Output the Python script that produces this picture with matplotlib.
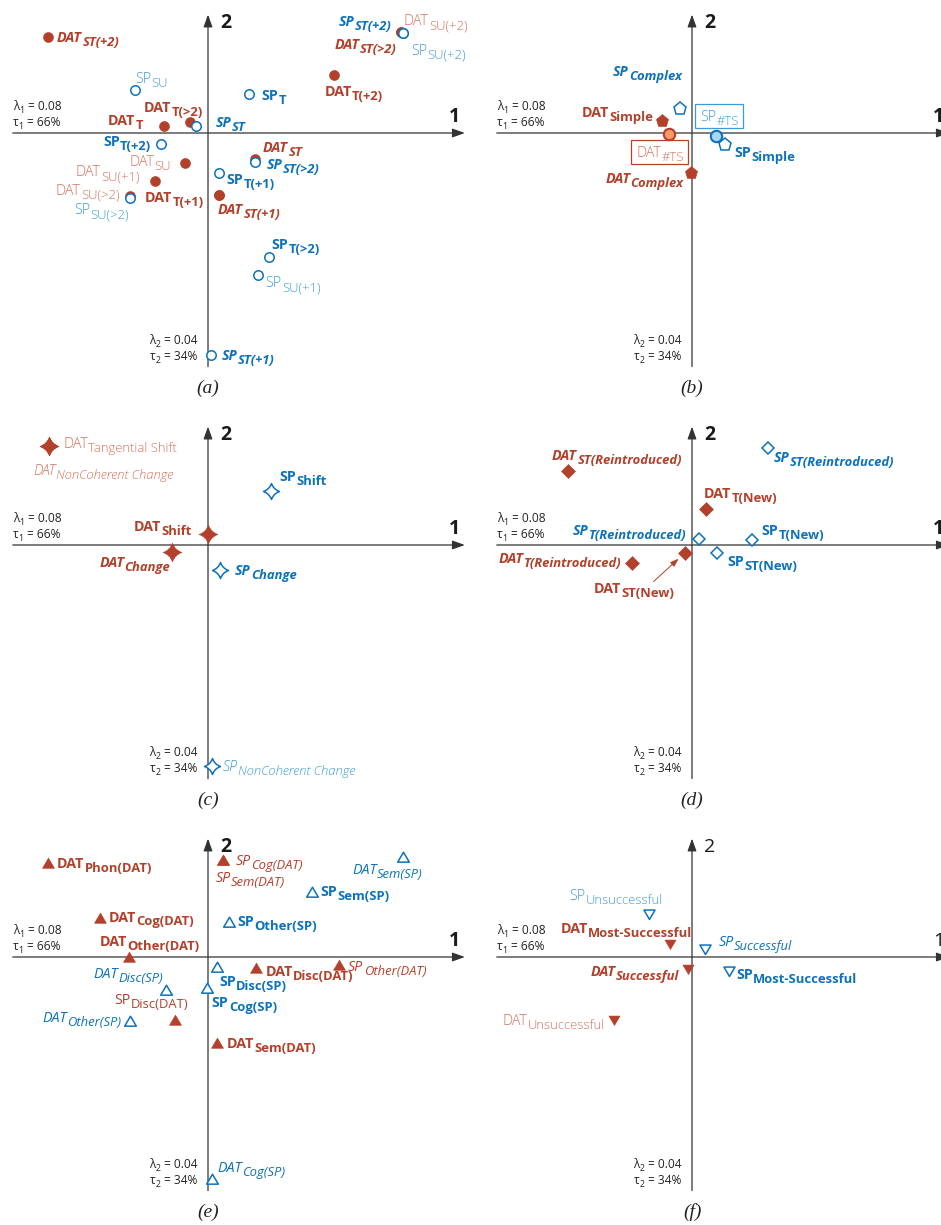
import numpy as np
import matplotlib
matplotlib.use("Agg")
import matplotlib.pyplot as plt
from matplotlib.path import Path
from matplotlib.patches import Rectangle
from matplotlib.transforms import Bbox

plt.rcParams["font.family"] = ["Open Sans", "DejaVu Sans"]

RED = "#b2402a"
BLUE = "#0d72b9"
RED_LIGHT = "#d4705c"
BLUE_LIGHT = "#3f9bd8"
AXIS = "#333333"

# ---------------- (a) transition types ----------------
a_labels = ["DAT_ST(+2)", "SP_ST(+2)", "DAT_SU(+2)", "DAT_ST(>2)", "SP_SU(+2)",
            "DAT_T(+2)", "SP_T", "SP_SU", "DAT_T(>2)", "DAT_T", "SP_ST", "SP_T(+2)",
            "DAT_ST", "SP_ST(>2)", "DAT_SU", "SP_T(+1)", "DAT_SU(+1)", "DAT_SU(>2)",
            "SP_SU(>2)", "DAT_T(+1)", "DAT_ST(+1)", "SP_T(>2)", "SP_SU(+1)", "SP_ST(+1)"]
a_dim1 = [-0.400, 0.487, 0.482, 0.482, 0.487, 0.314, 0.103, -0.183, -0.046, -0.110,
          -0.029, -0.118, 0.117, 0.117, -0.058, 0.027, -0.133, -0.196, -0.196, 0.027,
          0.027, 0.153, 0.126, 0.007]
a_dim2 = [0.239, 0.250, 0.253, 0.253, 0.250, 0.146, 0.097, 0.108, 0.027, 0.018,
          0.017, -0.027, -0.065, -0.073, -0.076, -0.099, -0.121, -0.157, -0.162, -0.154,
          -0.154, -0.311, -0.355, -0.555]

# ---------------- (b) simple / complex ----------------
b_labels = ["SP_Complex", "DAT_Simple", "DAT_#TS", "SP_#TS", "SP_Simple", "DAT_Complex"]
b_dim1 = [-0.031, -0.074, -0.058, 0.061, 0.083, -0.003]
b_dim2 = [0.059, 0.029, -0.003, -0.008, -0.029, -0.100]

# ---------------- (c) shift / change ----------------
c_labels = ["DAT_Tangential Shift", "DAT_NonCoherent Change", "SP_Shift", "DAT_Shift",
            "DAT_Change", "SP_Change", "SP_NonCoherent Change"]
c_dim1 = [-0.398, -0.398, 0.157, 0.000, -0.090, 0.031, 0.010]
c_dim2 = [0.248, 0.248, 0.136, 0.028, -0.017, -0.063, -0.553]

# ---------------- (d) new / reintroduced ----------------
d_labels = ["DAT_ST(Reintroduced)", "SP_ST(Reintroduced)", "DAT_T(New)",
            "SP_T(Reintroduced)", "SP_T(New)", "DAT_ST(New)", "SP_ST(New)",
            "DAT_T(Reintroduced)"]
d_dim1 = [-0.311, 0.189, 0.036, 0.017, 0.151, -0.017, 0.063, -0.149]
d_dim2 = [0.186, 0.243, 0.089, 0.014, 0.013, -0.019, -0.019, -0.046]

# ---------------- (e) topic types ----------------
e_labels = ["DAT_Phon(DAT)", "SP_Cog(DAT)", "SP_Sem(DAT)", "DAT_Sem(SP)", "SP_Sem(SP)",
            "DAT_Cog(DAT)", "SP_Other(SP)", "DAT_Other(DAT)", "SP_Disc(SP)",
            "DAT_Disc(DAT)", "SP_Other(DAT)", "DAT_Disc(SP)", "SP_Cog(SP)",
            "SP_Disc(DAT)", "DAT_Other(SP)", "DAT_Sem(DAT)", "DAT_Cog(SP)"]
e_group = ["DAT", "DAT", "DAT", "SP", "SP", "DAT", "SP", "DAT", "SP",
           "DAT", "DAT", "SP", "SP", "DAT", "SP", "DAT", "SP"]
e_dim1 = [-0.400, 0.038, 0.038, 0.488, 0.260, -0.271, 0.053, -0.197, 0.023,
          0.119, 0.328, -0.104, -0.003, -0.083, -0.194, 0.023, 0.010]
e_dim2 = [0.235, 0.243, 0.243, 0.249, 0.162, 0.098, 0.088, 0.000, -0.024,
          -0.028, -0.019, -0.082, -0.078, -0.157, -0.159, -0.215, -0.555]

# ---------------- (f) success ----------------
f_labels = ["SP_Unsuccessful", "DAT_Most-Successful", "SP_Successful",
            "DAT_Successful", "SP_Most-Successful", "DAT_Unsuccessful"]
f_dim1 = [-0.108, -0.054, 0.033, -0.009, 0.093, -0.194]
f_dim2 = [0.108, 0.033, 0.020, -0.029, -0.034, -0.157]

# label placement: offset (px) of the text from its point, anchor, text style
a_layout = [(9, 0, "left", "bi"), (-11.3, 11.5, "right", "bi"), (3, 11.8, "left", "l"),
            (-4.3, -12, "right", "bi"), (8, -16.8, "left", "l"), (-9, -16.3, "left", "b"),
            (12.4, -1, "left", "b"), (0, 12, "left", "l"), (13.3, 15.7, "right", "b"),
            (-21, 5.7, "right", "b"), (19.3, 3.9, "left", "bi"), (-9.6, 2.3, "right", "b"),
            (8.3, 12.3, "left", "bi"), (11.7, -1.7, "left", "bi"), (-13.6, 2, "right", "l"),
            (7.7, -6, "left", "b"), (-15.3, 10, "right", "l"), (-10, 6, "right", "l"),
            (-0.7, -11.3, "right", "l"), (-15, -2, "right", "b"), (-0.7, -14.3, "left", "bi"),
            (2.4, 13, "left", "b"), (7, -7.4, "left", "l"), (10.7, 0, "left", "bi")]
b_layout = [(2.4, 38.2, "right", "bi"), (-9, 9.2, "right", "b"), (-8.5, -17.8, "center", "box"),
            (3.5, 19.8, "center", "box"), (9.3, -7.5, "left", "b"), (-7.4, -5, "right", "bi")]
c_layout = [(14.3, 3, "left", "l"), (-15.7, -24.3, "left", "li"), (8.3, 14.7, "left", "b"),
            (-16.6, 8, "right", "b"), (-1.6, -10.6, "right", "bi"), (14.3, 0, "left", "bi"),
            (10.4, 0, "left", "li")]
d_layout = [(-15.6, 16, "left", "bi"), (6, -9, "left", "bi"), (-2.7, 16.6, "left", "b"),
            (-12.3, 9, "right", "bi"), (9, 9.7, "left", "b"), (-10.7, -35.6, "right", "b"),
            (9.7, -8.6, "left", "b"), (-11.3, 5, "right", "bi")]
e_layout = [(9, 0, "left", "b"), (12.4, 0, "left", "i"), (-7.6, -16.7, "left", "i"),
            (19.4, -11.6, "right", "i"), (8.7, 1.4, "left", "b"), (9, 1.3, "left", "b"),
            (8.4, 1.3, "left", "b"), (-29, 15.6, "left", "b"), (1.7, -14.3, "left", "b"),
            (10, -2.7, "left", "b"), (9, -1.7, "left", "i"), (-3.4, 16.3, "right", "i"),
            (5, -13.7, "left", "b"), (13.3, 20.7, "right", "r"), (-9, 4, "right", "i"),
            (10, 0, "left", "b"), (5, 12.3, "left", "i")]
f_layout = [(14, 18.7, "right", "l"), (21.7, 16, "right", "b"), (13.3, 8, "left", "i"),
            (-9, -2.7, "right", "bi"), (7, -3.3, "left", "b"), (-9, 0, "right", "l")]

b_shape = ["p", "p", "o", "o", "p", "p"]

STYLES = {
    "b": ("bold", "normal", False),
    "bi": ("bold", "italic", False),
    "i": ("normal", "italic", False),
    "r": ("normal", "normal", False),
    "l": (300, "normal", True),
    "li": (300, "italic", True),
    "box": (300, "normal", True),
}


def star_path(c=0.26):
    verts = [(0, 1), (c, c), (1, 0), (c, -c), (0, -1), (-c, -c), (-1, 0), (-c, c), (0, 1), (0, 0)]
    codes = [Path.MOVETO] + [Path.CURVE3] * 8 + [Path.CLOSEPOLY]
    return Path(verts, codes)


TRI_UP = Path([(-1, -0.8), (1, -0.8), (0, 0.9), (-1, -0.8)], closed=True)
TRI_DOWN = Path([(-1, 0.8), (1, 0.8), (0, -0.9), (-1, 0.8)], closed=True)
STAR = star_path()

# marker, size for DAT (filled), size for SP (open)
MARKERS = {
    "(a)": ("o", 7.2, 6.8),
    "(b)": ("p", 9.5, 9.5),
    "(c)": (STAR, 13.5, 11.5),
    "(d)": ("D", 7.0, 5.8),
    "(e)": (TRI_UP, 8.6, 8.4),
    "(f)": (TRI_DOWN, 8.0, 8.0),
}

S = 400.0  # pixels per unit on both dimensions
W, H = 941, 1225
AX_LEFT, AX_RIGHT = -0.488, 0.642
AX_BOTTOM, AX_TOP = -0.584, 0.296

fig = plt.figure(figsize=(W / 100, H / 100), dpi=100)
fig.patch.set_facecolor("white")
renderer = fig.canvas.get_renderer()


def seg_text(ax, xy, segments, dx, dy, ha, color, weight, style,
             size=10.3, sub_size=9.4, drop=4.0, family=None):
    arts = []
    for txt, sub, gap in segments:
        kw = dict(color=color, fontweight=weight, fontstyle=style,
                  fontsize=sub_size if sub else size)
        if family:
            kw["family"] = family
        t = ax.annotate(txt, xy, xytext=(0, 0), textcoords="offset pixels", ha="left",
                        va="baseline", annotation_clip=False, zorder=6, **kw)
        arts.append((t, sub, gap))
    widths = [t.get_window_extent(renderer).width for t, _, _ in arts]
    total = sum(widths) + sum(g for _, _, g in arts)
    x = dx - {"left": 0.0, "center": total / 2, "right": total}[ha]
    for (t, sub, gap), w in zip(arts, widths):
        x += gap
        t.xyann = (x, dy - (drop if sub else 0.0))
        x += w
    return [a[0] for a in arts]


def make_axes(ox, oy):
    ax = fig.add_axes([(ox - 208) / W, (H - oy - 267) / H, 470 / W, 400 / H])
    ax.set_xlim(-208 / S, 262 / S)
    ax.set_ylim(-267 / S, 133 / S)
    ax.set_axis_off()
    return ax


def draw_frame(ax, tag, bold_digits=True):
    arrow = dict(arrowstyle="-|>,head_length=0.75,head_width=0.27", color=AXIS, lw=0.9,
                 shrinkA=0, shrinkB=0, mutation_scale=10)
    ax.annotate("", xy=(AX_RIGHT, 0), xytext=(AX_LEFT, 0), arrowprops=arrow,
                annotation_clip=False, zorder=1)
    ax.annotate("", xy=(0, AX_TOP), xytext=(0, AX_BOTTOM), arrowprops=arrow,
                annotation_clip=False, zorder=1)
    w = "bold" if bold_digits else "normal"
    ax.annotate("1", (0, 0), xytext=(246.7, 16.3), textcoords="offset pixels", ha="center",
                va="center", fontsize=14, fontweight=w, color="#1a1a1a", annotation_clip=False)
    ax.annotate("2", (0, 0), xytext=(17.4, 110.5), textcoords="offset pixels", ha="center",
                va="center", fontsize=14, fontweight=w, color="#1a1a1a", annotation_clip=False)
    kw = dict(color="#222222", weight="normal", style="normal", size=8.6, sub_size=6.4, drop=3)
    seg_text(ax, (0, 0), [("λ", False, 0), ("1", True, 0.3), ("= 0.08", False, 3)],
             -195.3, 27.3 - 4, "left", **kw)
    seg_text(ax, (0, 0), [("τ", False, 0), ("1", True, 0.3), ("= 66%", False, 3)],
             -195.3, 10.6 - 4, "left", **kw)
    seg_text(ax, (0, 0), [("λ", False, 0), ("2", True, 0.3), ("= 0.04", False, 3)],
             -11, -206.7 - 4, "right", **kw)
    seg_text(ax, (0, 0), [("τ", False, 0), ("2", True, 0.3), ("= 34%", False, 3)],
             -11, -223.4 - 4, "right", **kw)
    ax.annotate(tag, (0, 0), xytext=(0, -255), textcoords="offset pixels", ha="center",
                va="center", fontsize=14, family="Liberation Serif", fontstyle="italic",
                color="#222222", annotation_clip=False)


def draw_points(ax, tag, labels, groups, dim1, dim2, layout, shapes=None):
    marker, ms_dat, ms_sp = MARKERS[tag]
    order = [i for i in range(len(labels)) if groups[i] == "DAT"] + \
            [i for i in range(len(labels)) if groups[i] == "SP"]
    for i in order:
        m = shapes[i] if shapes else marker
        if m == "o" and tag == "(b)":
            face = "#f39a66" if groups[i] == "DAT" else "#a7d7f3"
            edge = RED if groups[i] == "DAT" else BLUE
            ax.plot(dim1[i], dim2[i], ls="none", marker="o", ms=8.2, mfc=face, mec=edge,
                    mew=1.5, zorder=4)
        elif groups[i] == "DAT":
            ax.plot(dim1[i], dim2[i], ls="none", marker=m, ms=ms_dat, mfc=RED, mec=RED,
                    mew=0.4, zorder=3)
        else:
            ax.plot(dim1[i], dim2[i], ls="none", marker=m, ms=ms_sp, mfc="white", mec=BLUE,
                    mew=1.1, zorder=4)

    for i, lab in enumerate(labels):
        base, sub = lab.split("_", 1)
        dx, dy, ha, st = layout[i]
        weight, style, light = STYLES[st]
        if groups[i] == "DAT":
            color = RED_LIGHT if light else RED
        else:
            color = BLUE_LIGHT if light else BLUE
        arts = seg_text(ax, (dim1[i], dim2[i]), [(base, False, 0), (sub, True, 0.3)],
                        dx, dy - 5, ha, color, weight, style)
        if st == "box":
            bb = Bbox.union([a.get_window_extent(renderer) for a in arts])
            px, py = ax.transData.transform((dim1[i], dim2[i]))
            cy = py + dy
            x0, x1 = bb.x0 - 6, bb.x1 + 4
            y0, y1 = cy - 12, cy + 12
            (fx0, fy0), (fx1, fy1) = fig.transFigure.inverted().transform([(x0, y0), (x1, y1)])
            edge = RED if groups[i] == "DAT" else BLUE_LIGHT
            fig.add_artist(Rectangle((fx0, fy0), fx1 - fx0, fy1 - fy0, fill=False,
                                     ec=edge, lw=0.9, transform=fig.transFigure))


def prefix_groups(labels):
    return [lab.split("_")[0] for lab in labels]


panels = [
    ("(a)", (208, 133), a_labels, prefix_groups(a_labels), a_dim1, a_dim2, a_layout, None),
    ("(b)", (692, 133), b_labels, prefix_groups(b_labels), b_dim1, b_dim2, b_layout, b_shape),
    ("(c)", (208, 545), c_labels, prefix_groups(c_labels), c_dim1, c_dim2, c_layout, None),
    ("(d)", (692, 545), d_labels, prefix_groups(d_labels), d_dim1, d_dim2, d_layout, None),
    ("(e)", (208, 957), e_labels, e_group, e_dim1, e_dim2, e_layout, None),
    ("(f)", (692, 957), f_labels, prefix_groups(f_labels), f_dim1, f_dim2, f_layout, None),
]

for tag, (ox, oy), labels, groups, dim1, dim2, layout, shapes in panels:
    ax = make_axes(ox, oy)
    draw_frame(ax, tag, bold_digits=(tag != "(f)"))
    draw_points(ax, tag, labels, groups, dim1, dim2, layout, shapes)
    if tag == "(d)":
        k = labels.index("DAT_ST(New)")
        ax.annotate("", xy=(dim1[k], dim2[k]), xytext=(-31.7, -29), textcoords="offset pixels",
                    arrowprops=dict(arrowstyle="-|>,head_length=0.5,head_width=0.18",
                                    color=RED, lw=0.7, shrinkA=0, shrinkB=6.5,
                                    mutation_scale=10))

fig.savefig("out.png", dpi=100, facecolor="white")
